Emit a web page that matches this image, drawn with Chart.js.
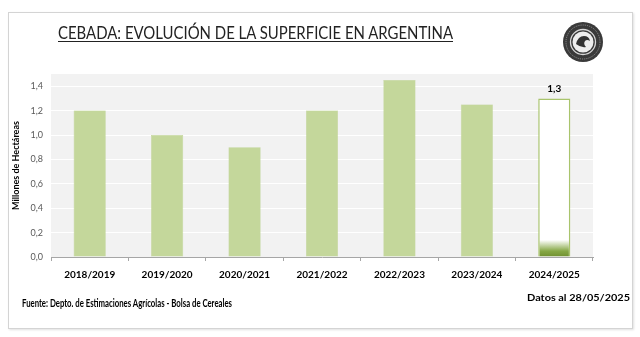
<!DOCTYPE html>
<html>
<head>
<meta charset="utf-8">
<script src="https://cdn.jsdelivr.net/npm/chart.js@4.4.1/dist/chart.umd.min.js"></script>
<style>
  html, body { margin:0; padding:0; background:#fff; }
  body { width:640px; height:337px; position:relative; overflow:hidden; font-family: Lato, "Open Sans", sans-serif; }
  #frame { position:absolute; left:8px; top:12px; width:625px; height:317px; border:1px solid #d4d4d4; box-shadow: 1px 1px 2px rgba(0,0,0,0.12); box-sizing:border-box; }
  #wrap { position:absolute; left:0; top:0; width:640px; height:337px; }
  .txt { position:absolute; white-space:nowrap; transform-origin:0 0; color:#000; }
  #title { left:58px; top:22px; font-size:17px; text-decoration:underline; text-underline-offset:2px; text-decoration-thickness:1px; color:#222; }
  #src { left:22px; top:297px; font-size:10.5px; font-weight:bold; }
  #date { left:527px; top:291px; font-size:10px; font-weight:bold; }
</style>
</head>
<body>
<div id="frame"></div>
<div id="wrap"><canvas id="c" width="640" height="337"></canvas></div>
<div class="txt" id="title" data-w="395">CEBADA: EVOLUCIÓN DE LA SUPERFICIE EN ARGENTINA</div>
<div class="txt" id="src" data-w="210">Fuente: Depto. de Estimaciones Agrícolas - Bolsa de Cereales</div>
<div class="txt" id="date" data-w="103">Datos al 28/05/2025</div>
<svg id="logo" style="position:absolute;left:562px;top:21px" width="42" height="42" viewBox="0 0 42 42">
  <circle cx="21" cy="21" r="20" fill="#3a3a3a"/>
  <circle cx="21" cy="21" r="12.5" fill="none" stroke="#d8d8d8" stroke-width="1.3"/>
  <circle cx="21" cy="21" r="10.5" fill="#eeeeee"/>
  <path d="M14 23 q2 -8 8 -8 q5 0 6 5 q-3 -2 -5 0 q-2 3 1 6 q-5 1 -10 -3z" fill="#333"/>
  <circle cx="21" cy="21" r="17" fill="none" stroke="#bbbbbb" stroke-width="0.6" stroke-dasharray="1.2 1"/>
</svg>
<script>
const categories = ["2018/2019","2019/2020","2020/2021","2021/2022","2022/2023","2023/2024","2024/2025"];
const surface = [1.2, 1.0, 0.9, 1.2, 1.45, 1.25, 1.3];
const yTickValues = [0, 0.2, 0.4, 0.6, 0.8, 1.0, 1.2, 1.4];
const highlightIndex = 6;
const highlightLabel = "1,3";

// fit text widths
document.querySelectorAll('.txt').forEach(el => {
  const w = el.getBoundingClientRect().width;
  const t = parseFloat(el.dataset.w);
  el.style.transform = 'scaleX(' + (t / w) + ')';
});

const bgPlugin = {
  id: 'plotBg',
  beforeDraw(chart) {
    const {ctx, chartArea:a} = chart;
    ctx.save();
    ctx.fillStyle = '#f2f2f2';
    ctx.fillRect(a.left, a.top, a.right - a.left, a.bottom - a.top);
    ctx.restore();
  }
};
const labelPlugin = {
  id: 'topLabel',
  afterDatasetsDraw(chart) {
    const bar = chart.getDatasetMeta(0).data[highlightIndex];
    const ctx = chart.ctx;
    ctx.save();
    ctx.font = 'bold 10px Lato';
    ctx.fillStyle = '#000';
    ctx.textAlign = 'center';
    ctx.textBaseline = 'bottom';
    ctx.fillText(highlightLabel, bar.x, bar.y - 5);
    ctx.restore();
  }
};

new Chart(document.getElementById('c'), {
  type: 'bar',
  data: {
    labels: categories,
    datasets: [{
      data: surface,
      backgroundColor(ctx) {
        if (ctx.dataIndex !== highlightIndex) return '#c4d79b';
        const chart = ctx.chart;
        const y = chart.scales.y;
        if (!y || !chart.chartArea) return '#ffffff';
        const y0 = y.getPixelForValue(0);
        const g = chart.ctx.createLinearGradient(0, y0, 0, y0 - 17);
        g.addColorStop(0, '#6f8f2f');
        g.addColorStop(0.35, '#86a845');
        g.addColorStop(1, '#ffffff');
        return g;
      },
      borderColor(ctx) { return ctx.dataIndex === highlightIndex ? '#a9c46c' : '#b5cc85'; },
      borderWidth(ctx) { return ctx.dataIndex === highlightIndex ? 1.5 : 0.5; },
      barPercentage: 0.415,
      categoryPercentage: 1.0
    }]
  },
  options: {
    responsive: false,
    animation: false,
    devicePixelRatio: 1,
    layout: { padding: { left: 11, right: 47, top: 74, bottom: 48 } },
    plugins: { legend: { display: false }, tooltip: { enabled: false } },
    scales: {
      x: {
        grid: { offset: true, drawOnChartArea: false, drawTicks: true, tickLength: 4, color: '#a6a6a6' },
        border: { color: '#a6a6a6', width: 1 },
        ticks: { color: '#000', font: { family: 'Lato', size: 10, weight: 'bold' }, padding: 8, maxRotation: 0 }
      },
      y: {
        min: 0, max: 1.5,
        afterBuildTicks(scale) { scale.ticks = yTickValues.map(v => ({ value: v })); },
        afterFit(scale) { scale.width = 40; },
        grid: { color: '#ffffff', lineWidth: 1, drawTicks: false },
        border: { display: false },
        ticks: {
          color: '#595959', padding: 8,
          font: { family: 'Lato', size: 9 },
          callback: v => v.toFixed(1).replace('.', ',')
        },
        title: { display: true, text: 'Millones de Hectáreas', color: '#000', font: { family: 'Lato', size: 9, weight: 'bold' }, padding: { top: 0, bottom: 2 } }
      }
    }
  },
  plugins: [bgPlugin, labelPlugin]
});
</script>
</body>
</html>
